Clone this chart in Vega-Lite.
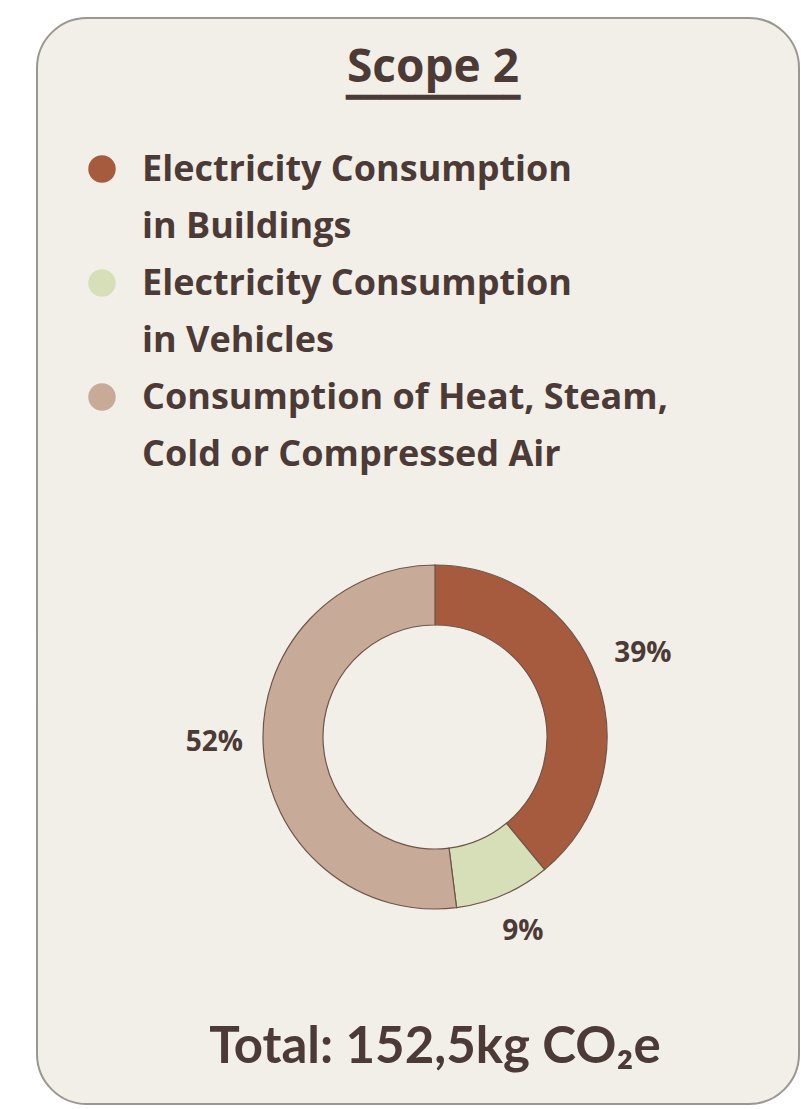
{
  "$schema": "https://vega.github.io/schema/vega-lite/v6.json",
  "width": 801,
  "height": 1109,
  "autosize": {"type": "fit", "contains": "padding"},
  "padding": {"left": 37, "top": 18, "right": 2, "bottom": 5},
  "background": "#ffffff",
  "view": {"fill": "#f2efe8", "stroke": "#9a9692", "strokeWidth": 2, "cornerRadius": 50},
  "config": {
    "view": {"fill": "#f2efe8", "stroke": "#9a9692", "strokeWidth": 2, "cornerRadius": 50},
    "font": "Open Sans",
    "style": {"guide-label": {"lineHeight": 56.5, "dy": 12}}
  },
  "data": {
    "values": [
      {"category": "Electricity Consumption|in Buildings", "share": 0.39, "rank": 1},
      {"category": "Electricity Consumption|in Vehicles", "share": 0.09, "rank": 2},
      {"category": "Consumption of Heat, Steam,|Cold or Compressed Air", "share": 0.52, "rank": 3}
    ]
  },
  "layer": [
    {
      "mark": {
        "type": "arc",
        "innerRadius": 112,
        "outerRadius": 172,
        "stroke": "#6f5549",
        "strokeWidth": 1.2,
        "x": {"expr": "width/2 + 17"},
        "y": {"expr": "height/2 + 176"}
      },
      "encoding": {
        "theta": {"field": "share", "type": "quantitative", "stack": true},
        "order": {"field": "rank", "type": "quantitative"},
        "color": {
          "field": "category",
          "type": "nominal",
          "scale": {
            "domain": [
              "Electricity Consumption|in Buildings",
              "Electricity Consumption|in Vehicles",
              "Consumption of Heat, Steam,|Cold or Compressed Air"
            ],
            "range": ["#a65b3e", "#d7dfb9", "#c8aa99"]
          },
          "legend": {
            "orient": "none",
            "legendX": 47,
            "legendY": 133,
            "title": null,
            "symbolType": "circle",
            "symbolSize": 755,
            "symbolStrokeWidth": 0,
            "labelFont": "Open Sans",
            "labelFontSize": 36,
            "labelFontWeight": "bold",
            "labelColor": "#4b3a35",
            "labelLimit": 0,
            "labelOffset": 22,
            "labelBaseline": "alphabetic",
            "labelExpr": "split(datum.label, '|')",
            "rowPadding": 20
          }
        }
      }
    },
    {
      "mark": {
        "type": "text",
        "radius": 221,
        "font": "Open Sans",
        "fontSize": 28,
        "fontWeight": "bold",
        "color": "#4b3a35",
        "x": {"expr": "width/2 + 17"},
        "y": {"expr": "height/2 + 168"}
      },
      "encoding": {
        "theta": {"field": "share", "type": "quantitative", "stack": true},
        "order": {"field": "rank", "type": "quantitative"},
        "detail": {"field": "category", "type": "nominal"},
        "text": {"field": "share", "type": "quantitative", "format": ".0%"}
      }
    },
    {
      "data": {"values": [{"label": "Scope 2"}]},
      "mark": {
        "type": "text",
        "font": "Open Sans",
        "fontSize": 46,
        "fontWeight": "bold",
        "color": "#4b3a35",
        "baseline": "alphabetic",
        "x": {"expr": "width/2 + 15"},
        "y": 64
      },
      "encoding": {"text": {"field": "label", "type": "nominal"}}
    },
    {
      "data": {"values": [{"label": "━━━━━━━━━━"}]},
      "mark": {
        "type": "text",
        "font": "DejaVu Sans",
        "fontSize": 29,
        "color": "#4b3a35",
        "baseline": "alphabetic",
        "x": {"expr": "width/2 + 15"},
        "y": 89
      },
      "encoding": {"text": {"field": "label", "type": "nominal"}}
    },
    {
      "data": {"values": [{"label": "Total: 152,5kg CO₂e"}]},
      "mark": {
        "type": "text",
        "font": "Lato",
        "fontSize": 51,
        "fontWeight": "bold",
        "color": "#4b3a35",
        "baseline": "alphabetic",
        "x": {"expr": "width/2 + 17"},
        "y": {"expr": "height - 41"}
      },
      "encoding": {"text": {"field": "label", "type": "nominal"}}
    }
  ]
}
